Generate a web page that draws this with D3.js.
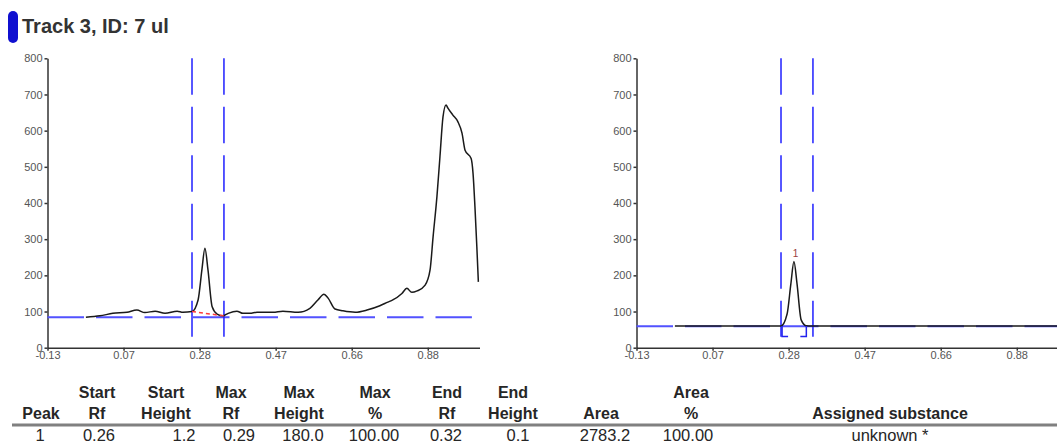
<!DOCTYPE html>
<html lang="en">
<head>
<meta charset="UTF-8">
<title>Track 3 densitogram</title>
<style>
    body { margin: 0; background: #fff; }
    svg { display: block; font-family: "Liberation Sans", Arial, sans-serif; }
    .axis path, .axis line { stroke: #333; stroke-width: 1.5; }
    .axis text { fill: #555; font-size: 11px; font-family: "Liberation Sans", Arial, sans-serif; }
    .curve { fill: none; stroke: #1a1a1a; stroke-width: 1.5; }
    .window { stroke: #2020ff; stroke-width: 1.5; stroke-dasharray: 36.5 12; }
    .base { stroke: #5252ff; stroke-width: 2; stroke-dasharray: 36.5 12; }
    .red { stroke: #ff3b3b; stroke-width: 1.5; stroke-dasharray: 4 3; }
    .bracket { fill: none; stroke: #2222ee; stroke-width: 1.5; }
    .th { font-size: 16px; font-weight: bold; fill: #262626; }
    .td { font-size: 16.5px; fill: #262626; }
</style>
</head>
<body>
<svg id="chart" width="1057" height="445"></svg>
<script src="https://cdn.jsdelivr.net/npm/d3@7"></script>
<script>
// axis ticks
let yTicks = [0, 100, 200, 300, 400, 500, 600, 700, 800]
let xTickPos = [-0.13, 0.07, 0.27, 0.47, 0.67, 0.87]
let xTickLabels = ["-0.13", "0.07", "0.28", "0.47", "0.66", "0.88"]

// raw scan (left panel)
let rawRf = [-0.029, 0.008, 0.042, 0.079, 0.105, 0.126, 0.153, 0.179, 0.211, 0.226,
    0.250, 0.266, 0.276, 0.284, 0.292, 0.303, 0.316, 0.331, 0.345, 0.368, 0.384,
    0.402, 0.421, 0.463, 0.489, 0.529, 0.560, 0.581, 0.597, 0.608, 0.626, 0.647,
    0.679, 0.710, 0.744, 0.765, 0.778, 0.802, 0.815, 0.828, 0.842, 0.863, 0.876,
    0.884, 0.894, 0.902, 0.910, 0.918, 0.923, 0.936, 0.949, 0.960, 0.968, 0.984,
    0.989, 0.994, 0.999, 1.003]
let rawHeight = [84, 88, 95, 98, 104, 97, 101, 95, 101, 98,
    100, 132, 215, 275, 215, 113, 93, 88, 95, 101, 95,
    95, 98, 98, 101, 98, 109, 132, 148, 137, 107, 102,
    98, 104, 116, 126, 132, 150, 164, 153, 157, 173, 215,
    307, 417, 528, 638, 671, 662, 643, 625, 593, 546, 523,
    482, 390, 279, 182]

// baseline corrected scan (right panel)
let corrRf = [-0.029, 0.250, 0.266, 0.276, 0.284, 0.292, 0.303, 0.316, 0.330, 1.003]
let corrHeight = [60, 60, 93, 177, 238, 178, 77, 61, 60, 60]

// integration window, baselines, peak marks
let windowRf = [0.250, 0.334]
let windowHeight = [800, 30]
let leftBaseRf = [-0.13, 0.986]
let leftBaseHeight = 84
let rightBaseRf = [-0.13, 1.006]
let rightBaseHeight = 59
let peakBaseRf = [0.250, 0.334]
let peakBaseHeight = [100, 88]
let bracketRf = [0.2528, 0.3166]
let bracketHeight = [60, 31]
let peakLabel = "1"
let peakLabelRf = 0.288
let peakLabelHeight = 251

// table
let headTop = ["", "Start", "Start", "Max", "Max", "Max", "End", "End", "", "Area", ""]
let headBottom = ["Peak", "Rf", "Height", "Rf", "Height", "%", "Rf", "Height", "Area", "%", "Assigned substance"]
let rowValues = ["1", "0.26", "1.2", "0.29", "180.0", "100.00", "0.32", "0.1", "2783.2", "100.00", "unknown *"]
let headX = [41, 97, 166, 231, 299, 375, 447, 513, 601, 691, 890]
let cellX = [40, 99, 184, 239, 303, 374, 446, 518, 605, 688, 890]

let svg = d3.select("#chart")
svg.append("rect").attr("width", 1057).attr("height", 445).attr("fill", "#fff")

// title
svg.append("rect").attr("x", 8).attr("y", 11).attr("width", 10).attr("height", 32)
    .attr("rx", 5).attr("fill", "#1010d0")
svg.append("text").attr("x", 22).attr("y", 33)
    .style("font-size", "20px").style("font-weight", "bold").attr("fill", "#333")
    .text("Track 3, ID: 7 ul")

let yScale = d3.scaleLinear().domain([0, 800]).range([347.7, 58.3])

function panel(left, drawContent) {
    let xScale = d3.scaleLinear().domain([-0.13, 1.006]).range([left, left + 432])
    let g = svg.append("g")

    g.append("g").attr("class", "axis")
        .attr("transform", "translate(" + left + ",0)")
        .call(d3.axisLeft(yScale).tickValues(yTicks).tickSize(3).tickSizeOuter(0).tickPadding(2))
    g.append("g").attr("class", "axis")
        .attr("transform", "translate(0," + yScale(0) + ")")
        .call(d3.axisBottom(xScale).tickValues(xTickPos).tickSize(3).tickSizeOuter(0).tickPadding(1)
            .tickFormat((d, i) => xTickLabels[i]))

    drawContent(g, xScale)
}

let line = d3.line().curve(d3.curveMonotoneX)

function windowLines(g, xScale) {
    windowRf.forEach(rf => {
        g.append("line").attr("class", "window")
            .attr("x1", xScale(rf)).attr("x2", xScale(rf))
            .attr("y1", yScale(windowHeight[0])).attr("y2", yScale(windowHeight[1]))
    })
}

// left panel: raw scan
panel(47.5, (g, xScale) => {
    g.append("line").attr("class", "base")
        .attr("x1", xScale(leftBaseRf[0])).attr("x2", xScale(leftBaseRf[1]))
        .attr("y1", yScale(leftBaseHeight)).attr("y2", yScale(leftBaseHeight))
    windowLines(g, xScale)
    g.append("path").attr("class", "curve")
        .attr("d", line(rawRf.map((d, i) => [xScale(d), yScale(rawHeight[i])])))
    g.append("line").attr("class", "red")
        .attr("x1", xScale(peakBaseRf[0])).attr("x2", xScale(peakBaseRf[1]))
        .attr("y1", yScale(peakBaseHeight[0])).attr("y2", yScale(peakBaseHeight[1]))
})

// right panel: baseline corrected
panel(636.5, (g, xScale) => {
    g.append("line").attr("class", "base")
        .attr("x1", xScale(rightBaseRf[0])).attr("x2", xScale(rightBaseRf[1]))
        .attr("y1", yScale(rightBaseHeight)).attr("y2", yScale(rightBaseHeight))
    windowLines(g, xScale)
    g.append("path").attr("class", "curve")
        .attr("d", line(corrRf.map((d, i) => [xScale(d), yScale(corrHeight[i])])))

    let arm = 6
    let bx0 = xScale(bracketRf[0]), bx1 = xScale(bracketRf[1])
    let by0 = yScale(bracketHeight[0]), by1 = yScale(bracketHeight[1])
    g.append("path").attr("class", "bracket")
        .attr("d", "M" + (bx0 + arm) + "," + by1 + "H" + bx0 + "V" + by0)
    g.append("path").attr("class", "bracket")
        .attr("d", "M" + (bx1 - arm) + "," + by1 + "H" + bx1 + "V" + by0)

    g.append("text").attr("x", xScale(peakLabelRf)).attr("y", yScale(peakLabelHeight))
        .attr("text-anchor", "middle").attr("fill", "#9a4040").style("font-size", "10px")
        .text(peakLabel)
})

// peak table
let table = svg.append("g")
headTop.forEach((t, i) => {
    table.append("text").attr("class", "th").attr("x", headX[i]).attr("y", 397.5)
        .attr("text-anchor", "middle").text(t)
})
headBottom.forEach((t, i) => {
    table.append("text").attr("class", "th").attr("x", headX[i]).attr("y", 418.5)
        .attr("text-anchor", "middle").text(t)
})
table.append("line").attr("x1", 12).attr("x2", 1057).attr("y1", 425).attr("y2", 425)
    .attr("stroke", "#808080").attr("stroke-width", 3)
rowValues.forEach((t, i) => {
    table.append("text").attr("class", "td").attr("x", cellX[i]).attr("y", 440.5)
        .attr("text-anchor", "middle").text(t)
})
</script>
</body>
</html>
